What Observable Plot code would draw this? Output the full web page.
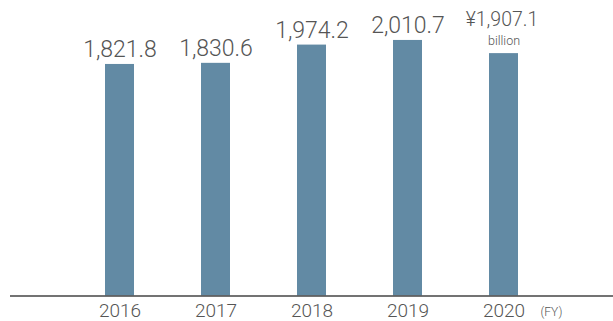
<!DOCTYPE html>
<html>
<head>
<meta charset="utf-8">
<script src="https://cdn.jsdelivr.net/npm/d3@7"></script>
<script src="https://cdn.jsdelivr.net/npm/@observablehq/plot@0.6"></script>
<style>
  html, body { margin: 0; padding: 0; background: #fff; }
  #chart svg { display: block; font-family: Roboto, "Liberation Sans", sans-serif; font-weight: 300; }
</style>
</head>
<body>
<div id="chart"></div>
<script>
const years = ["2016", "2017", "2018", "2019", "2020"];
const values = [1821.8, 1830.6, 1974.2, 2010.7, 1907.1];
const unitLabel = "billion";
const currencyPrefix = "¥";
const fyLabel = "(FY)";

const fmt = d3.format(",.1f");
const data = years.map((y, i) => ({
  year: y,
  value: values[i],
  label: (i === years.length - 1 ? currencyPrefix : "") + fmt(values[i]),
  last: i === years.length - 1
}));

const barColor = "#628aa4";
const textColor = "#555555";

const chart = Plot.plot({
  width: 613,
  height: 321,
  marginTop: 0,
  marginBottom: 25.5,
  marginLeft: 10,
  marginRight: 0,
  x: { domain: years, paddingInner: 0.7, paddingOuter: 0.975, axis: null },
  y: { domain: [0, 2325], axis: null },
  marks: [
    Plot.barY(data, { x: "year", y: "value", fill: barColor }),
    Plot.ruleY([0], { stroke: "#444", strokeWidth: 1.5 }),
    Plot.text(data.filter(d => !d.last), {
      x: "year", y: "value", text: "label", lineAnchor: "bottom", dy: -7,
      fontSize: 23, fill: textColor, letterSpacing: -1.2
    }),
    Plot.text(data.filter(d => d.last), {
      x: "year", y: "value", text: "label", lineAnchor: "bottom", dy: -27.6, dx: -2,
      fontSize: 19.5, fill: textColor, letterSpacing: -2
    }),
    Plot.text(data.filter(d => d.last), {
      x: "year", y: "value", text: () => unitLabel, lineAnchor: "bottom", dy: -9,
      fontSize: 12.5, fill: textColor
    }),
    Plot.text(data, {
      x: "year", y: () => 0, text: "year", lineAnchor: "bottom", dy: 20.5,
      fontSize: 19, fill: textColor, letterSpacing: 1.2
    }),
    Plot.text(data.filter(d => d.last), {
      x: "year", y: () => 0, text: () => fyLabel, lineAnchor: "bottom", dy: 19.5,
      dx: 36.5, textAnchor: "start", fontSize: 12, fill: textColor
    })
  ]
});
document.getElementById("chart").appendChild(chart);
</script>
</body>
</html>
